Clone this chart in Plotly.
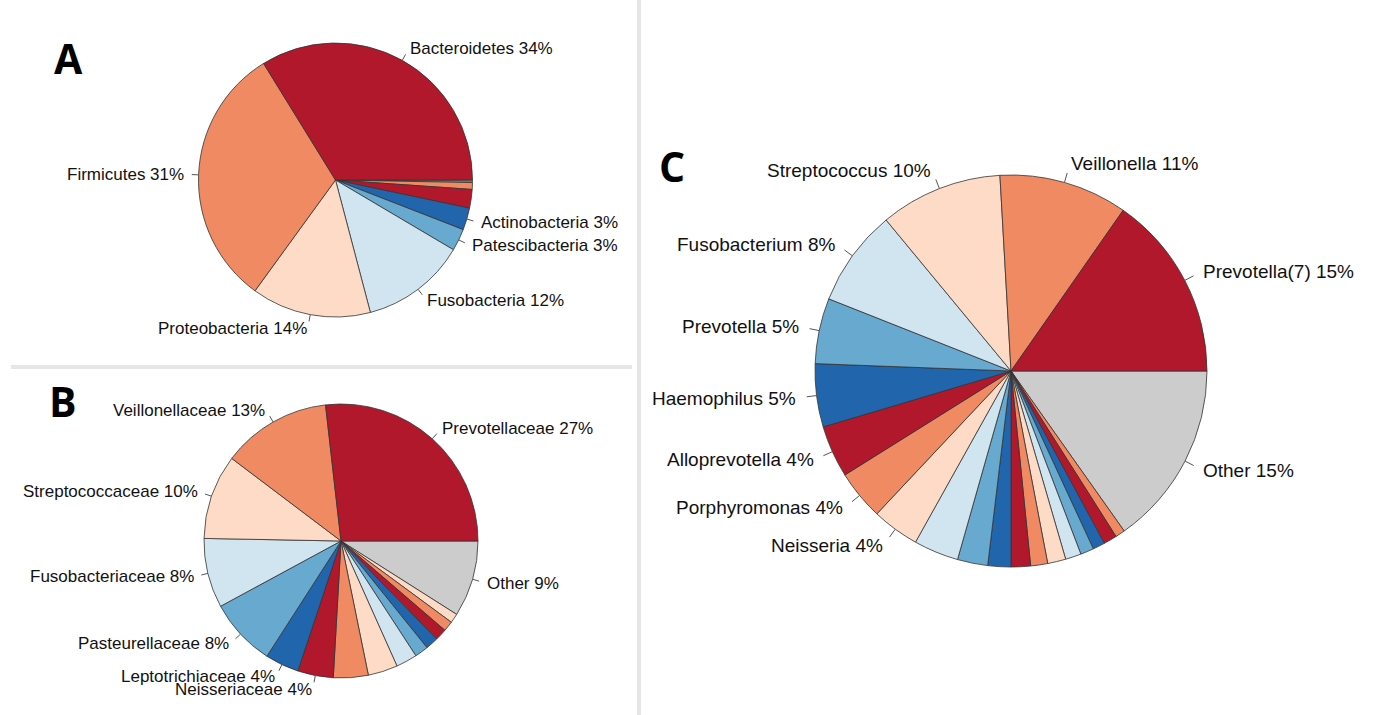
import math
import plotly.graph_objects as go

W, H = 1373, 715

# ---------------- data ----------------
RED, ORANGE, PEACH = "#B2182B", "#EF8A62", "#FDDBC7"
LBLUE, BLUE, DBLUE = "#D1E5F0", "#67A9CF", "#2166AC"
GRAY = "#CCCCCC"
palette = [RED, ORANGE, PEACH, LBLUE, BLUE, DBLUE]

# Panel A: phylum level ("" = slice without a label)
phylum_names = ["Bacteroidetes", "Firmicutes", "Proteobacteria", "Fusobacteria",
                "Patescibacteria", "Actinobacteria", "", "", "", ""]
phylum_values = [33.8, 31.2, 14.1, 12.4, 2.6, 2.6, 2.2, 0.8, 0.15, 0.15]

# Panel B: family level
family_names = ["Prevotellaceae", "Veillonellaceae", "Streptococcaceae", "Fusobacteriaceae",
                "Pasteurellaceae", "Leptotrichiaceae", "Neisseriaceae",
                "", "", "", "", "", "", "", "", "Other"]
family_values = [26.8, 12.9, 10.0, 8.2, 8.0, 4.0, 4.2,
                 4.1, 3.5, 2.5, 1.6, 1.5, 1.4, 1.2, 1.1, 9.0]

# Panel C: genus level
genus_names = ["Prevotella(7)", "Veillonella", "Streptococcus", "Fusobacterium",
               "Prevotella", "Haemophilus", "Alloprevotella", "Porphyromonas", "Neisseria",
               "", "", "", "", "", "", "", "", "", "", "", "Other"]
genus_values = [15.3, 10.6, 10.1, 8.0, 5.4, 5.2, 4.3, 4.1, 3.9,
                3.7, 2.5, 1.9, 1.6, 1.4, 1.5, 1.3, 1.1, 1.0, 1.1, 0.8, 15.2]


def colors_for(names):
    cols = [palette[i % len(palette)] for i in range(len(names))]
    cols[-1] = GRAY
    return cols


fig = go.Figure()
shapes = []
annotations = []

LABEL_FONT = "Liberation Sans, Arial, Helvetica, sans-serif"


def px(x):
    return x / W


def py(y):
    return 1 - y / H


def add_pie(names, values, cx, cy, r, fsize):
    cols = colors_for(names)
    # R-style pie: counterclockwise from 3 o'clock == reversed order drawn clockwise
    fig.add_trace(go.Pie(
        values=values[::-1],
        sort=False,
        direction="clockwise",
        rotation=90,
        marker=dict(colors=cols[::-1], line=dict(color="#333333", width=0.8)),
        textinfo="none",
        hovertext=names[::-1],
        hoverinfo="text+percent",
        showlegend=False,
        domain=dict(x=[px(cx - r), px(cx + r)], y=[py(cy + r), py(cy - r)]),
    ))
    total = float(sum(values))
    cum = 0.0
    for name, v in zip(names, values):
        mid = (cum + v / 2) / total * 2 * math.pi
        cum += v
        if not name:
            continue
        c, s = math.cos(mid), math.sin(mid)
        shapes.append(dict(type="line", xref="paper", yref="paper",
                           x0=px(cx + r * c), y0=py(cy - r * s),
                           x1=px(cx + 1.05 * r * c), y1=py(cy - 1.05 * r * s),
                           line=dict(color="#555555", width=1)))
        annotations.append(dict(
            xref="paper", yref="paper",
            x=px(cx + 1.1 * r * c), y=py(cy - 1.1 * r * s),
            text=f"{name} {round(100 * v / total)}%",
            showarrow=False,
            xanchor="left" if c >= 0 else "right",
            yanchor="middle",
            borderpad=0,
            font=dict(family=LABEL_FONT, size=fsize, color="#111111"),
        ))


add_pie(phylum_names, phylum_values, 335.5, 180, 137, 17)
add_pie(family_names, family_values, 341, 541, 137, 17)
add_pie(genus_names, genus_values, 1011, 371, 196, 19)

# panel letters
for letter, x, y in [("A", 68, 58), ("B", 63, 401), ("C", 672, 166)]:
    annotations.append(dict(xref="paper", yref="paper", x=px(x), y=py(y),
                            text=f"<b>{letter}</b>", showarrow=False,
                            xanchor="center", yanchor="middle",
                            font=dict(family="Open Sans, Noto Sans, sans-serif",
                                      size=41, color="#000000")))

# panel dividers
shapes.append(dict(type="line", xref="paper", yref="paper",
                   x0=px(639), x1=px(639), y0=0, y1=1,
                   line=dict(color="#E6E6E6", width=4)))
shapes.append(dict(type="line", xref="paper", yref="paper",
                   x0=px(11), x1=px(632), y0=py(367), y1=py(367),
                   line=dict(color="#E6E6E6", width=4)))

fig.update_layout(
    width=W, height=H,
    margin=dict(l=0, r=0, t=0, b=0),
    paper_bgcolor="white",
    plot_bgcolor="white",
    shapes=shapes,
    annotations=annotations,
    showlegend=False,
)

fig.write_html("out.html",
               config={"displayModeBar": False},
               post_script="document.body.style.margin='0';document.body.style.overflow='hidden';")
